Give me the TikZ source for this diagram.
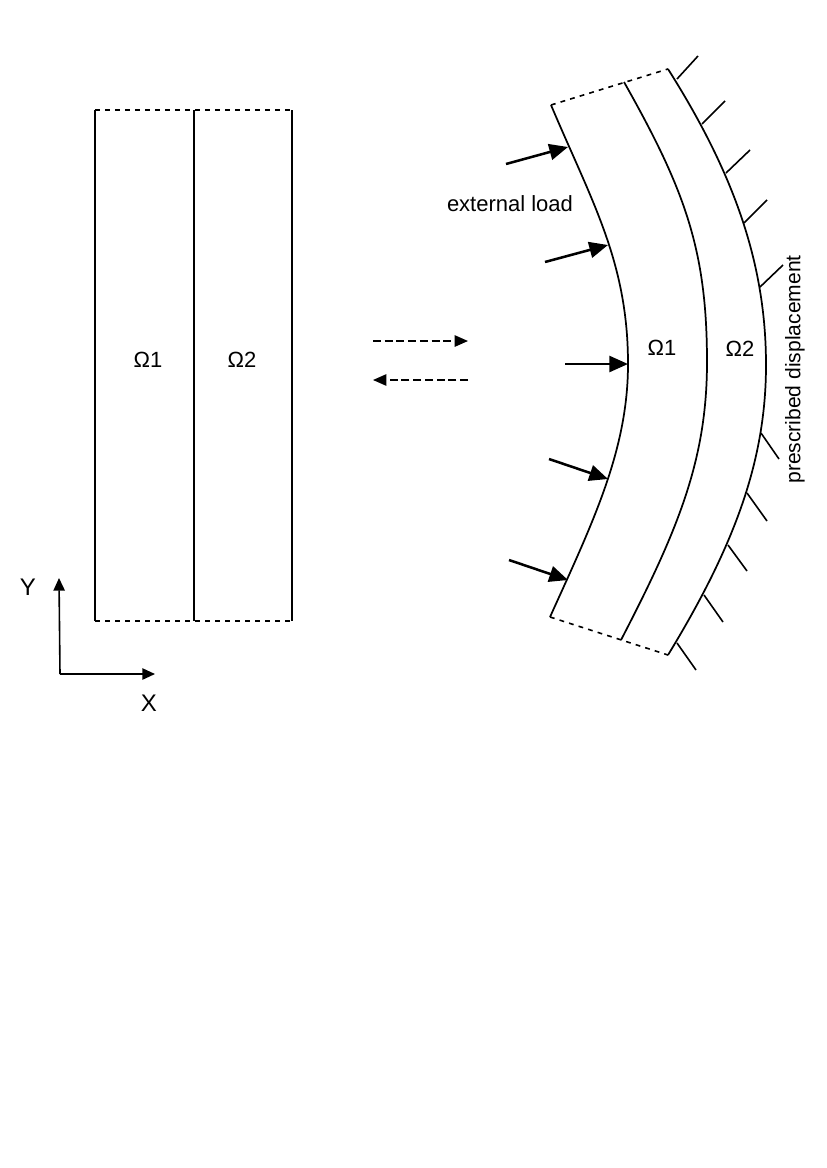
\documentclass[tikz,border=0pt]{standalone}
\usepackage{fontspec}
\setmainfont{Liberation Sans}
\usetikzlibrary{arrows.meta}
\tikzset{
  x=0.75pt,y=-0.75pt,
  solidline/.style={line width=1.3pt,black},
  dotline/.style={line width=1.2pt,black,dash pattern=on 3.6pt off 3.9pt},
  hatchline/.style={line width=1.2pt,black},
  loadarrow/.style={line width=1.9pt,black,-{Triangle[length=14pt,width=12pt]}},
  axisarrow/.style={line width=1.2pt,black,-{Triangle[length=9.5pt,width=8.5pt]}},
  dasharrow/.style={line width=1.2pt,black,dash pattern=on 6pt off 2.8pt,-{Triangle[length=10pt,width=8.5pt,sep=0pt]}},
  lbl/.style={inner sep=0pt,font=\fontsize{16.5pt}{18pt}\selectfont,text=black},
  vlbl/.style={inner sep=0pt,font=\fontsize{15.8pt}{18pt}\selectfont,text=black},
  axlbl/.style={inner sep=0pt,font=\fontsize{18pt}{20pt}\selectfont,text=black},
  omega/.style={inner sep=0pt,font=\fontsize{16.5pt}{18pt}\selectfont,text=black}
}
\begin{document}
\begin{tikzpicture}
\useasboundingbox (0,0) rectangle (827,1168);
% straight domain
\coordinate (lt1) at (95,110); \coordinate (lb1) at (95,621);
\coordinate (lt2) at (194,110); \coordinate (lb2) at (194,621);
\coordinate (lt3) at (292,110); \coordinate (lb3) at (292,621);
\draw[solidline] (lt1)--(lb1);
\draw[solidline] (lt2)--(lb2);
\draw[solidline] (lt3)--(lb3);
\draw[dotline] (lt1)--(lt3);
\draw[dotline] (lb1)--(lb3);
\node[omega] (o1) at (148,360) {Ω1};
\node[omega] (o2) at (242,360) {Ω2};
% axes
\coordinate (org) at (60,674); \coordinate (ytip) at (59,578); \coordinate (xtip) at (155,674);
\draw[axisarrow] (org)--(ytip);
\draw[axisarrow] (org)--(xtip);
\node[axlbl] (ylab) at (28,587) {Y};
\node[axlbl] (xlab) at (149,703) {X};
% mapping arrows
\coordinate (ma) at (373,341); \coordinate (mb) at (468,341);
\coordinate (mc) at (468,380); \coordinate (md) at (373,380);
\draw[dasharrow] (ma)--(mb);
\draw[dasharrow] (mc)--(md);
% curved domain
\coordinate (a1) at (551,105); \coordinate (a2) at (568,147); \coordinate (a3) at (608,245);
\coordinate (a4) at (628,364); \coordinate (a5) at (608,479); \coordinate (a6) at (568,580);
\coordinate (a7) at (550,617);
\coordinate (b1) at (624,82); \coordinate (bm) at (707,362); \coordinate (b7) at (621,640);
\coordinate (c1) at (668,69); \coordinate (cm) at (766,365); \coordinate (c7) at (668,655);
\coordinate (h1) at (677,79); \coordinate (h2) at (702,124); \coordinate (h3) at (726,173);
\coordinate (h4) at (744,223); \coordinate (h5) at (760,287);
\coordinate (h6) at (761,433); \coordinate (h7) at (747,493); \coordinate (h8) at (728,545);
\coordinate (h9) at (704,595); \coordinate (h10) at (677,643);
\draw[solidline] (a1) .. controls (592,202) and (628,262) .. (a4) .. controls (628,450) and (593,522) .. (a7);
\draw[solidline] (b1) .. controls (685,190) and (707,250) .. (bm) .. controls (707,460) and (678,530) .. (b7);
\draw[solidline] (c1) .. controls (735,175) and (766,265) .. (cm) .. controls (766,460) and (735,545) .. (c7);
\draw[dotline] (a1)--(c1);
\draw[dotline] (a7)--(c7);
% load arrows
\coordinate (s2) at (506,164); \coordinate (s3) at (545,262); \coordinate (s4) at (565,364);
\coordinate (s5) at (549,459); \coordinate (s6) at (509,560);
\draw[loadarrow] (s2)--(a2);
\draw[loadarrow] (s3)--(a3);
\draw[loadarrow] (s4)--(a4);
\draw[loadarrow] (s5)--(a5);
\draw[loadarrow] (s6)--(a6);
% hatches
\coordinate (e1) at (698,56); \coordinate (e2) at (725,101); \coordinate (e3) at (750,150);
\coordinate (e4) at (767,200); \coordinate (e5) at (783,265);
\coordinate (e6) at (779,459); \coordinate (e7) at (767,521); \coordinate (e8) at (747,571);
\coordinate (e9) at (723,622); \coordinate (e10) at (696,670);
\foreach \i in {1,...,10} \draw[hatchline] (h\i)--(e\i);
% labels
\node[omega] (o3) at (662,348) {Ω1};
\node[omega] (o4) at (740,349) {Ω2};
\node[lbl] (load) at (510,204) {external load};
\node[vlbl,rotate=90] (disp) at (795,369.5) {prescribed displacement};
\end{tikzpicture}
\end{document}
